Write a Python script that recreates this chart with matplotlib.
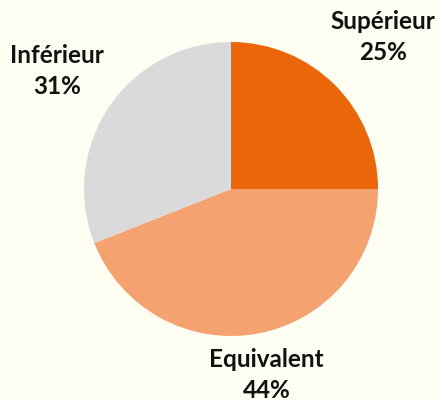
import numpy as np
import matplotlib.pyplot as plt

# Data
labels = ["Supérieur", "Equivalent", "Inférieur"]
shares = [25, 44, 31]
colors = ["#EB6608", "#F4A26F", "#DADADA"]
label_dist = [1.46, 1.29, 1.43]

bg = "#FFFEF3"

fig = plt.figure(figsize=(4.38, 4.01), dpi=100, facecolor=bg)
ax = fig.add_axes([0, 0, 1, 1])
ax.set_facecolor(bg)

cx, cy, r = 231, 401 - 189, 147
wedges, _ = ax.pie(shares, colors=colors, startangle=90, counterclock=False,
                   radius=r, center=(cx, cy), frame=True,
                   wedgeprops=dict(linewidth=0))
ax.set_xlim(0, 438)
ax.set_ylim(0, 401)
ax.axis("off")

for w, lab, s, d in zip(wedges, labels, shares, label_dist):
    mid = np.deg2rad((w.theta1 + w.theta2) / 2)
    x = cx + d * r * np.cos(mid)
    y = cy + d * r * np.sin(mid)
    ax.text(x, y, f"{lab}\n{s}%", ha="center", va="center",
            fontsize=17.5, fontweight="bold", family="Lato",
            color="#111111", linespacing=1.4)

fig.savefig("out.png", dpi=100, facecolor=bg)
